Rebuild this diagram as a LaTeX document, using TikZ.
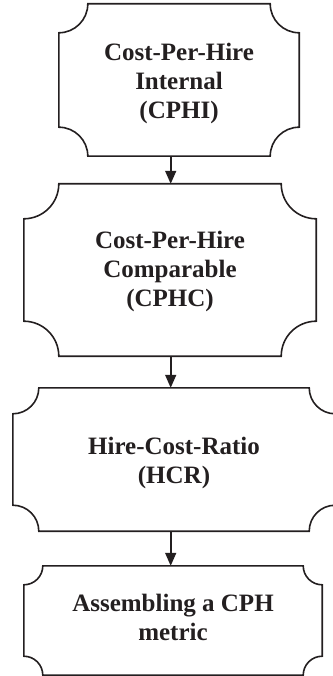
\documentclass[tikz,border=0pt]{standalone}
\usepackage{fontspec}
\setmainfont{Liberation Serif}
\usetikzlibrary{calc,arrows.meta}
\definecolor{ink}{HTML}{231F20}

% Outline of a plaque: rectangle with concave quarter-circle corners
% #1 = node name, #2 = corner radius in pt
\newcommand\plaqueoutline[2]{%
  \draw[plaque line]
    ($(#1.north west)+(#2pt,0)$) -- ($(#1.north east)+(-#2pt,0)$)
    arc[start angle=180,end angle=270,radius=#2pt]
    -- ($(#1.south east)+(0,#2pt)$)
    arc[start angle=90,end angle=180,radius=#2pt]
    -- ($(#1.south west)+(#2pt,0)$)
    arc[start angle=0,end angle=90,radius=#2pt]
    -- ($(#1.north west)+(0,-#2pt)$)
    arc[start angle=270,end angle=360,radius=#2pt]
    -- cycle;}

\begin{document}
\begin{tikzpicture}[x=1pt,y=-1pt,
  plaque line/.style={draw=ink,line width=1.6pt,line join=miter},
  plaque/.style={inner sep=0pt},
  stage/.style={inner sep=0pt,align=center,text=ink,
    font=\fontsize{25}{29}\selectfont\bfseries},
  flow/.style={draw=ink,line width=1.6pt,-{Triangle[length=13pt,width=11pt]}}]
  \useasboundingbox (0,0) rectangle (332,676);

  % plaque frames
  \node[plaque,minimum width=240pt,minimum height=152pt] (b1) at (179,80) {};
  \node[plaque,minimum width=292pt,minimum height=172pt] (b2) at (170,270) {};
  \node[plaque,minimum width=322pt,minimum height=143pt] (b3) at (174,459.5) {};
  \node[plaque,minimum width=298pt,minimum height=109pt] (b4) at (173,620.5) {};

  \plaqueoutline{b1}{29}
  \plaqueoutline{b2}{35}
  \plaqueoutline{b3}{26}
  \plaqueoutline{b4}{19}

  % labels
  \node[stage] (t1) at ([yshift=-3pt]b1.center) {Cost-Per-Hire\\Internal\\(CPHI)};
  \node[stage] (t2) at ([yshift=-1pt]b2.center) {Cost-Per-Hire\\Comparable\\(CPHC)};
  \node[stage] (t3) at ([yshift=-3pt]b3.center) {Hire-Cost-Ratio\\(HCR)};
  \node[stage] (t4) at ([yshift=3pt]b4.center) {Assembling a CPH\\metric};

  % vertical axis shared by the connectors
  \coordinate (axis) at (170.7,0);
  \draw[flow] (b1.south -| axis) -- (b2.north -| axis);
  \draw[flow] (b2.south -| axis) -- (b3.north -| axis);
  \draw[flow] (b3.south -| axis) -- (b4.north -| axis);
\end{tikzpicture}
\end{document}
